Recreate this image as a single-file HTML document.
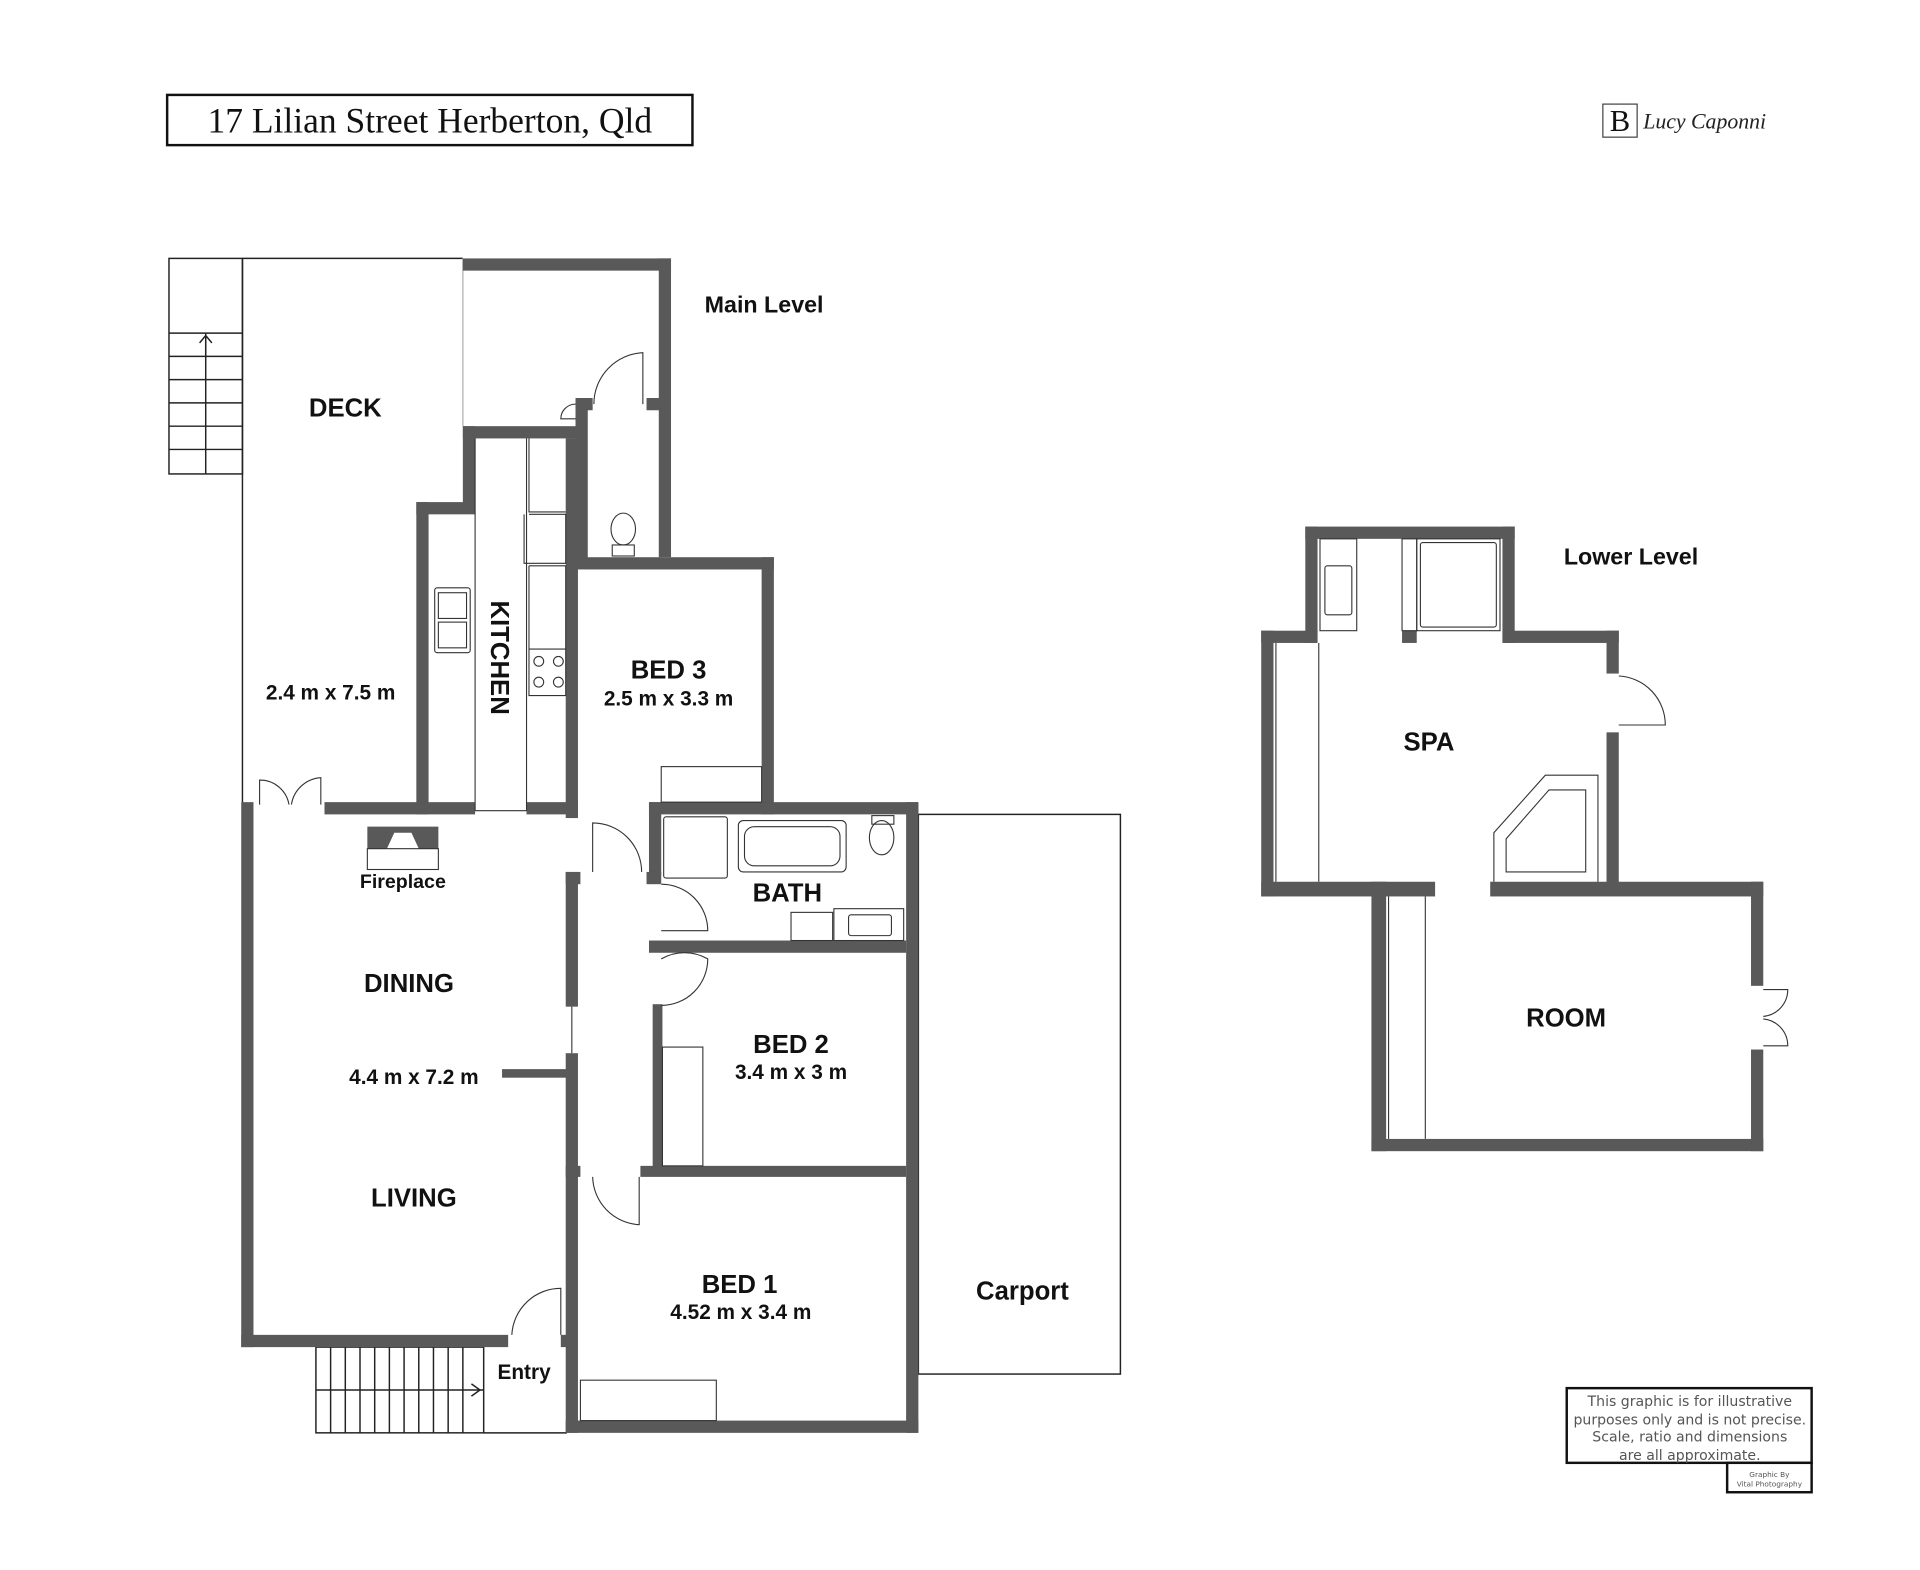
<!DOCTYPE html>
<html><head><meta charset="utf-8"><style>html,body{margin:0;padding:0;background:#fff}svg{display:block}</style></head>
<body>
<svg width="1920" height="1570" viewBox="0 0 1568 1282" preserveAspectRatio="none" xmlns="http://www.w3.org/2000/svg" font-family="Liberation Sans, sans-serif">
<rect width="1600" height="1300" fill="#fff"/>
<rect x="136.5" y="77.5" width="429" height="41" fill="#fff" stroke="#111" stroke-width="2"/>
<text x="351" y="108" font-family="Liberation Serif, serif" font-size="29" text-anchor="middle" fill="#111">17 Lilian Street Herberton, Qld</text>
<rect x="1309" y="85" width="28" height="27" fill="#fff" stroke="#444" stroke-width="1"/>
<text x="1323" y="107" font-family="Liberation Serif, serif" font-size="25" text-anchor="middle" fill="#111">B</text>
<text x="1342" y="105" font-family="Liberation Serif, serif" font-style="italic" font-size="17.8" fill="#222">Lucy Caponni</text>

<g fill="none" stroke="#222" stroke-width="1.2">
<rect x="138" y="211" width="60" height="176"/>
<line x1="138" y1="272" x2="198" y2="272"/><line x1="138" y1="291" x2="198" y2="291"/><line x1="138" y1="310" x2="198" y2="310"/><line x1="138" y1="329" x2="198" y2="329"/><line x1="138" y1="348" x2="198" y2="348"/><line x1="138" y1="367" x2="198" y2="367"/>
<line x1="168" y1="272" x2="168" y2="387"/>
<path d="M168 290 V274 M163 280 L168 274 L173 280"/>
<line x1="198" y1="211" x2="378" y2="211"/>
<line x1="198" y1="211" x2="198" y2="657"/>
<line x1="378" y1="211" x2="378" y2="348" stroke="#bbb"/>
<rect x="750" y="665" width="165" height="457"/>
<rect x="258" y="1100" width="137" height="70"/>
<line x1="395" y1="1170" x2="463" y2="1170"/>
<line x1="258" y1="1135" x2="395" y2="1135"/>
<path d="M270 1100V1170M282 1100V1170M294 1100V1170M306 1100V1170M318 1100V1170M330 1100V1170M342 1100V1170M354 1100V1170M366 1100V1170M378 1100V1170"/>
<path d="M385 1130 L392 1135 L385 1140"/>
</g>

<g fill="#595959">
<rect x="378" y="211" width="170" height="10"/>
<rect x="538" y="211" width="10" height="244"/>
<rect x="528" y="325" width="12" height="10"/>
<rect x="470" y="325" width="14" height="10"/>
<rect x="470" y="330" width="10" height="128"/>
<rect x="378" y="348" width="100" height="10"/>
<rect x="378" y="348" width="10" height="70"/>
<rect x="340" y="410" width="48" height="10"/>
<rect x="340" y="410" width="10" height="255"/>
<rect x="265" y="655" width="123" height="10"/>
<rect x="430" y="655" width="42" height="10"/>
<rect x="462" y="358" width="10" height="310"/>
<rect x="470" y="455" width="162" height="10"/>
<rect x="622" y="455" width="10" height="210"/>
<rect x="530" y="655" width="220" height="10"/>
<rect x="740" y="655" width="10" height="515"/>
<rect x="530" y="655" width="10" height="60"/>
<rect x="528" y="712" width="12" height="10"/>
<rect x="462" y="712" width="12" height="10"/>
<rect x="462" y="712" width="10" height="110"/>
<rect x="462" y="860" width="10" height="310"/>
<rect x="530" y="768" width="210" height="10"/>
<rect x="533" y="820" width="8" height="135"/>
<rect x="523" y="952" width="217" height="9"/>
<rect x="462" y="952" width="12" height="9"/>
<rect x="462" y="1160" width="288" height="10"/>
<rect x="197" y="655" width="10" height="445"/>
<rect x="197" y="1090" width="218" height="10"/>
<rect x="458" y="1090" width="10" height="10"/>
<rect x="410" y="873" width="56" height="7"/>
<path d="M300 675 H358 V693 H342 L336 680 H322 L316 693 H300 Z"/>
<rect x="1066" y="430" width="171" height="10"/>
<rect x="1066" y="430" width="10" height="95"/>
<rect x="1227" y="430" width="10" height="95"/>
<rect x="1030" y="515" width="46" height="10"/>
<rect x="1227" y="515" width="95" height="10"/>
<rect x="1030" y="515" width="10" height="217"/>
<rect x="1312" y="515" width="10" height="35"/>
<rect x="1312" y="598" width="10" height="130"/>
<rect x="1030" y="720" width="142" height="12"/>
<rect x="1217" y="720" width="223" height="12"/>
<rect x="1120" y="720" width="12" height="220"/>
<rect x="1120" y="930" width="320" height="10"/>
<rect x="1430" y="720" width="10" height="85"/>
<rect x="1430" y="857" width="10" height="83"/>
<rect x="1145" y="515" width="12" height="10"/>
</g>

<g fill="none" stroke="#333" stroke-width="0.9">
<rect x="300" y="693" width="58" height="17"/>
<path d="M212 657 V637 A24 24 0 0 1 236 657 M262 657 V635 A26 26 0 0 0 238 657"/>
<path d="M525 330 V288 A42 42 0 0 0 485 330"/>
<path d="M470 330 A12 12 0 0 0 458 342 H470"/>
<ellipse cx="509" cy="432" rx="10" ry="13"/><rect x="500" y="445" width="18" height="9"/>
<line x1="388" y1="358" x2="388" y2="662"/><line x1="430" y1="358" x2="430" y2="662"/>
<path d="M432 358 V418 H462 M432 420 H462 V460 H428 V420 M432 462 H462 V568 H432 V462 M432 530 H462"/>
<circle cx="440" cy="540" r="4"/><circle cx="456" cy="540" r="4"/><circle cx="440" cy="557" r="4"/><circle cx="456" cy="557" r="4"/>
<rect x="355" y="480" width="29" height="53" rx="2"/><rect x="358" y="484" width="23" height="21"/><rect x="358" y="508" width="23" height="21"/>
<line x1="388" y1="662" x2="430" y2="662"/>
<rect x="540" y="626" width="82" height="29"/>
<path d="M484 712 V672 A40 40 0 0 1 524 712"/>
<rect x="542" y="667" width="52" height="50" rx="2"/>
<rect x="603" y="670" width="88" height="42" rx="4"/><rect x="608" y="675" width="78" height="32" rx="8"/>
<ellipse cx="720" cy="684" rx="10" ry="14"/><rect x="712" y="666" width="18" height="7"/>
<rect x="681" y="742" width="57" height="26"/><rect x="693" y="747" width="35" height="17" rx="2"/>
<rect x="646" y="745" width="34" height="23"/>
<path d="M540 722 A38 38 0 0 1 578 760 H540"/>
<path d="M540 783 A38 38 0 0 1 578 783 A38 38 0 0 1 540 821"/>
<rect x="541" y="855" width="33" height="97"/>
<line x1="467" y1="822" x2="467" y2="860"/>
<path d="M522 961 V1000 A40 40 0 0 1 484 961"/>
<rect x="474" y="1127" width="111" height="33"/>
<path d="M458 1090 V1052 A40 40 0 0 0 418 1090"/>
<rect x="1078" y="440" width="30" height="75"/><rect x="1082" y="462" width="22" height="40" rx="2"/>
<rect x="1145" y="440" width="12" height="75"/>
<rect x="1157" y="440" width="68" height="75"/><rect x="1160" y="443" width="62" height="69" rx="2"/>
<line x1="1077" y1="525" x2="1077" y2="720"/><line x1="1042" y1="525" x2="1042" y2="720"/>
<path d="M1220 720 V680 L1262 633 H1305 V720"/>
<path d="M1230 712 V685 L1265 645 H1295 V712 Z"/>
<path d="M1322 552 A40 40 0 0 1 1360 592 H1322"/>
<line x1="1164" y1="732" x2="1164" y2="930"/><line x1="1134" y1="732" x2="1134" y2="930"/>
<path d="M1440 808 H1460 A22 22 0 0 1 1440 830 M1440 854 H1460 A22 22 0 0 0 1440 832"/>
</g>

<g font-weight="bold" fill="#111" text-anchor="middle">
<text x="624" y="255" font-size="19">Main Level</text>
<text x="1332" y="461" font-size="19">Lower Level</text>
<text x="282" y="340" font-size="21">DECK</text>
<text x="270" y="571" font-size="17">2.4 m x 7.5 m</text>
<text x="0" y="0" font-size="21" transform="translate(401 537) rotate(90)">KITCHEN</text>
<text x="546" y="554" font-size="21">BED 3</text>
<text x="546" y="576" font-size="17">2.5 m x 3.3 m</text>
<text x="643" y="736" font-size="21">BATH</text>
<text x="329" y="725" font-size="16">Fireplace</text>
<text x="334" y="810" font-size="21">DINING</text>
<text x="338" y="885" font-size="17">4.4 m x 7.2 m</text>
<text x="338" y="985" font-size="21">LIVING</text>
<text x="646" y="860" font-size="21">BED 2</text>
<text x="646" y="881" font-size="17">3.4 m x 3 m</text>
<text x="604" y="1056" font-size="21">BED 1</text>
<text x="605" y="1077" font-size="17">4.52 m x 3.4 m</text>
<text x="835" y="1061" font-size="21">Carport</text>
<text x="428" y="1126" font-size="17">Entry</text>
<text x="1167" y="613" font-size="21">SPA</text>
<text x="1279" y="838" font-size="21">ROOM</text>
</g>

<rect x="1279.5" y="1133.5" width="200" height="61" fill="#fff" stroke="#111" stroke-width="2"/>
<rect x="1410.5" y="1194.5" width="69" height="24" fill="#fff" stroke="#111" stroke-width="2"/>
<g font-family="DejaVu Sans, sans-serif" fill="#555" text-anchor="middle" font-size="11.5">
<text x="1380" y="1148">This graphic is for illustrative</text>
<text x="1380" y="1163">purposes only and is not precise.</text>
<text x="1380" y="1177">Scale, ratio and dimensions</text>
<text x="1380" y="1192">are all approximate.</text>
<text x="1445" y="1206" font-size="6">Graphic By</text>
<text x="1445" y="1214" font-size="6">Vital Photography</text>
</g>
</svg>
</body></html>
